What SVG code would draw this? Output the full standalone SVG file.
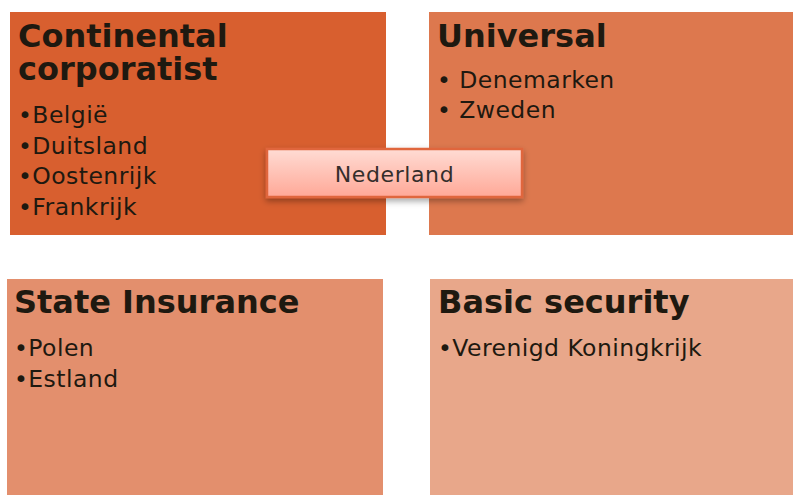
<svg xmlns="http://www.w3.org/2000/svg" width="793" height="495" viewBox="0 0 793 495">
<defs>
<linearGradient id="ng" x1="0" y1="0" x2="0" y2="1">
<stop offset="0" stop-color="#FFDCD4"/>
<stop offset="1" stop-color="#FFA897"/>
</linearGradient>
<filter id="sh" x="-10%" y="-30%" width="120%" height="170%">
<feDropShadow dx="0" dy="3" stdDeviation="3" flood-color="#000" flood-opacity="0.35"/>
</filter>
</defs>
<style>
.t{font-family:"DejaVu Sans",Verdana,sans-serif;font-weight:bold;font-size:32px;fill:#1E1910}
.i{font-family:"DejaVu Sans",Verdana,sans-serif;font-size:23.5px;letter-spacing:0.45px;fill:#1E1910}
.n{font-family:"DejaVu Sans",Verdana,sans-serif;font-size:22px;letter-spacing:0.6px;fill:#342E2B}
</style>
<rect width="793" height="495" fill="#fff"/>
<g id="continental">
<rect x="10" y="12" width="376" height="223" fill="#D85F2F"/>
<text class="t" x="18" y="47">Continental</text>
<text class="t" x="18" y="80">corporatist</text>
<text class="i" x="18" y="123">•België</text>
<text class="i" x="18" y="154">•Duitsland</text>
<text class="i" x="18" y="184">•Oostenrijk</text>
<text class="i" x="18" y="215">•Frankrijk</text>
</g>
<g id="universal">
<rect x="429" y="12" width="364" height="223" fill="#DD784E"/>
<text class="t" x="437" y="47">Universal</text>
<text class="i" x="437" y="88">• Denemarken</text>
<text class="i" x="437" y="118">• Zweden</text>
</g>
<g id="state">
<rect x="7" y="279" width="376" height="216" fill="#E38F6D"/>
<text class="t" x="14" y="313">State Insurance</text>
<text class="i" x="14" y="356">•Polen</text>
<text class="i" x="14" y="387">•Estland</text>
</g>
<g id="basic">
<rect x="430" y="279" width="363" height="216" fill="#E8A78A"/>
<text class="t" x="438" y="313">Basic security</text>
<text class="i" x="438" y="356">•Verenigd Koningkrijk</text>
</g>
<g id="nederland">
<rect x="267" y="149" width="255" height="48" fill="url(#ng)" stroke="#E0663E" stroke-width="2.5" filter="url(#sh)"/>
<text class="n" x="394.5" y="182" text-anchor="middle">Nederland</text>
</g>
<g id="connectors"/>
</svg>
